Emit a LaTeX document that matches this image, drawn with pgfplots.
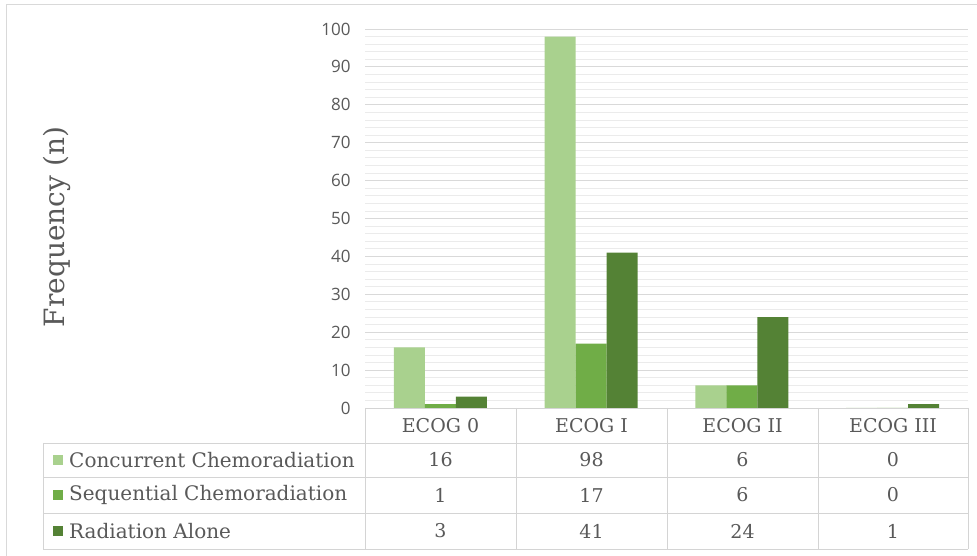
\documentclass[border=0pt]{standalone}
\usepackage{pgfplots}
\pgfplotsset{compat=1.18}
\usepackage{fontspec}
\setmainfont{DejaVu Serif}
\newfontfamily\tickfont{Open Sans}
\definecolor{cLight}{HTML}{A9D18E}
\definecolor{cMed}{HTML}{70AD47}
\definecolor{cDark}{HTML}{548235}
\definecolor{txt}{HTML}{595959}
\definecolor{grd}{HTML}{D9D9D9}
\definecolor{mgrd}{HTML}{EBEBEB}
\definecolor{tbl}{HTML}{D4D4D4}
\begin{document}
\begin{tikzpicture}[x=1pt,y=1pt]
\path[use as bounding box] (0,0) rectangle (977,556);
\draw[grd, line width=1pt] (6,0) -- (6,551) -- (977,551);
\begin{axis}[
  at={(365pt,148pt)}, anchor=south west,
  scale only axis, width=603pt, height=379pt,
  ymin=0, ymax=100, xmin=-0.5, xmax=3.5,
  ytick={0,10,...,100}, minor y tick num=4, xtick=\empty,
  ymajorgrids, yminorgrids,
  major grid style={grd, line width=0.8pt},
  minor grid style={mgrd, line width=0.8pt},
  axis line style={draw=none},
  major tick length=0pt, minor tick length=0pt,
  /pgf/number format/assume math mode=true,
  yticklabel style={font=\tickfont\fontsize{17}{17}\selectfont, text=txt, xshift=-11pt},
  ybar=0pt, bar width=31pt,
]
\addplot[fill=cLight, draw=none] coordinates {(0,16) (1,98) (2,6) (3,0)};
\addplot[fill=cMed, draw=none] coordinates {(0,1) (1,17) (2,6) (3,0)};
\addplot[fill=cDark, draw=none] coordinates {(0,3) (1,41) (2,24) (3,1)};
\end{axis}
% y label
\node[rotate=90, text=txt, font=\fontsize{28}{28}\selectfont] at (57,329) {Frequency (n)};
% data table
\begin{scope}[tbl, line width=0.8pt]
\draw (365,148) -- (968,148);
\draw (43,113) -- (968,113);
\draw (43,79) -- (968,79);
\draw (43,43) -- (968,43);
\draw (43,7) -- (968,7);
\draw (43,113) -- (43,7);
\foreach \xx in {365,516,667,818,968} {\draw (\xx,148) -- (\xx,7);}
\end{scope}
\begin{scope}[every node/.style={text=txt, font=\fontsize{19}{19}\selectfont, inner sep=0pt}]
\node at (440.5,130.5) {ECOG 0};
\node at (591.5,130.5) {ECOG I};
\node at (742.5,130.5) {ECOG II};
\node at (893,130.5) {ECOG III};
\fill[cLight] (53,91) rectangle (63,101);
\fill[cMed] (53,56) rectangle (63,66);
\fill[cDark] (53,20) rectangle (63,30);
\node[anchor=west, font=\fontsize{20}{20}\selectfont] at (69,96) {Concurrent Chemoradiation};
\node[anchor=west, font=\fontsize{20}{20}\selectfont] at (69,61) {Sequential Chemoradiation};
\node[anchor=west, font=\fontsize{20}{20}\selectfont] at (69,25) {Radiation Alone};
\node at (440.5,96) {16}; \node at (591.5,96) {98}; \node at (742.5,96) {6}; \node at (893,96) {0};
\node at (440.5,61) {1}; \node at (591.5,61) {17}; \node at (742.5,61) {6}; \node at (893,61) {0};
\node at (440.5,25) {3}; \node at (591.5,25) {41}; \node at (742.5,25) {24}; \node at (893,25) {1};
\end{scope}
\end{tikzpicture}
\end{document}
